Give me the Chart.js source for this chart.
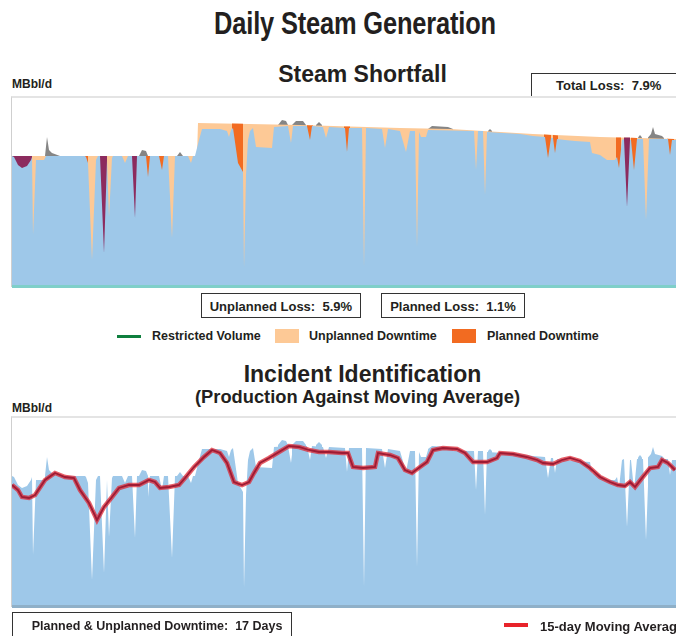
<!DOCTYPE html>
<html><head><meta charset="utf-8">
<script src="https://cdn.jsdelivr.net/npm/chart.js@4"></script>
<style>
html,body{margin:0;padding:0;background:#fff;}
body{width:676px;height:636px;overflow:hidden;position:relative;font-family:"Liberation Sans",Arial,sans-serif;color:#231f20;}
.t{position:absolute;white-space:nowrap;font-weight:bold;line-height:1;}
.c{transform:translateX(-50%);}
.box{position:absolute;border:1.5px solid #333;box-sizing:border-box;background:#fff;}
.sw{position:absolute;}
canvas{position:absolute;}
</style></head><body>

<div class="t" style="left:355px;top:7.8px;font-size:31px;transform:translateX(-50%) scaleX(0.82);letter-spacing:-0.2px;">Daily Steam Generation</div>
<div class="t c" style="left:362.5px;top:62.9px;font-size:23px;">Steam Shortfall</div>
<div class="t" style="left:12px;top:78.3px;font-size:12px;">MBbl/d</div>
<div class="box" style="left:531px;top:73px;width:160px;height:25px;"></div>
<div class="t c" id="totalTxt" style="left:608.7px;top:79.2px;font-size:13px;"></div>

<div style="position:absolute;left:11px;top:96px;width:670px;height:191px;border-top:2px solid #e4e4e4;border-left:1px solid #cfcfcf;box-sizing:border-box;"></div>
<canvas id="top" width="664" height="190" style="left:12px;top:97px;"></canvas>
<div style="position:absolute;left:12px;top:285px;width:664px;height:3px;background:#7fcfc9;"></div>

<div class="box" style="left:201px;top:293px;width:160px;height:25px;"></div>
<div class="t c" id="unplTxt" style="left:280.9px;top:300.2px;font-size:13px;"></div>
<div class="box" style="left:381px;top:293px;width:143.5px;height:25px;"></div>
<div class="t c" id="planTxt" style="left:453px;top:300.2px;font-size:13px;"></div>

<div class="sw" style="left:117px;top:334.5px;width:24px;height:3.5px;background:#0f7f3e;"></div>
<div class="t" style="left:152px;top:330.1px;font-size:12.5px;">Restricted Volume</div>
<div class="sw" style="left:275px;top:328.5px;width:24px;height:14px;background:#fdc996;"></div>
<div class="t" style="left:309px;top:330.1px;font-size:12.5px;">Unplanned Downtime</div>
<div class="sw" style="left:452px;top:328.5px;width:24px;height:14px;background:#f26b21;"></div>
<div class="t" style="left:487px;top:330.1px;font-size:12.5px;">Planned Downtime</div>

<div class="t c" style="left:362.5px;top:362.9px;font-size:23px;">Incident Identification</div>
<div class="t c" style="left:357.5px;top:388px;font-size:18.3px;">(Production Against Moving Average)</div>
<div class="t" style="left:12px;top:401.7px;font-size:12px;">MBbl/d</div>

<div style="position:absolute;left:11px;top:416px;width:670px;height:191px;border-top:2px solid #e4e4e4;border-left:1px solid #cfcfcf;box-sizing:border-box;"></div>
<canvas id="bot" width="664" height="190" style="left:12px;top:417px;"></canvas>
<div style="position:absolute;left:12px;top:605px;width:664px;height:2.5px;background:#8fb0c8;"></div>

<div class="box" style="left:12px;top:612px;width:280px;height:30px;"></div>
<div class="t" id="daysTxt" style="left:31.7px;top:619.6px;font-size:12.5px;"></div>
<div class="sw" style="left:504px;top:623px;width:24px;height:4px;background:#e8232a;"></div>
<div class="t" style="left:540px;top:619.9px;font-size:13px;">15-day Moving Average</div>

<script>
// ---- Summary figures ----
const totalLoss = "7.9%";
const unplannedLoss = "5.9%";
const plannedLoss = "1.1%";
const downtimeDays = 17;

// ---- Daily production (MBbl/d) ----
const prodDay = [0,1,3,5,7.5,9.5,10,10.5,12,16,17,36.5,37,38,40,42,43,44,46,47.5,48.5,50,50.5,55,56.5,58,60,61.5,62.5,67,68,69,73.5,75,76,78,80,81.5,88,89.5,90.5,91.5,93.5,95,104,107.5,108.5,109.5,110.5,113,115.5,116,117,118,119,120.5,122,130,131,138,139.5,140.5,147.5,149,150,155.5,157,158.5,166.5,167.5,168.5,175,176,177,185,186.5,188,194,197,199,201.5,202.5,203.5,204.5,207,208,231,232,233,235.5,236.5,237.5,254,260.5,266.5,268,269.5,270.5,271.5,272.5,276.5,281.5,289,290,294,297.5,301.5,302.5,303.5,305,306,307.5,309,309.5,311,312.5,315.5,317,318.5,328,329,330,332];
const prodMBbl = [65.5,65,61,59.5,60.5,63.5,65,26,63.5,63.5,65.5,65.5,65,62,13.5,63.5,65.5,65.5,17,63.5,35,64.5,65.5,65.5,62,65.5,65.5,34.5,65.5,65.5,55,65.5,65.5,58.5,65.5,65.5,24.5,65.5,65.5,62,65.5,65.5,73.5,79,79,78,75,78.5,79.5,62,57.5,9.5,56,73.5,78,79.5,70,69.5,80,80.5,72,80.5,80.5,73.5,80.5,80,74.5,80,79.5,67.5,79.5,79.5,10,79.5,79,69.5,79,78,67.5,78,78,20,77.5,75,75,78.5,78,58.5,78,78,46,77.5,76.5,75.5,75,64.5,74.5,74.5,67,74,73.5,73,72.5,67,66,63.5,63.5,65,59.5,73.5,74,40,73.5,73.5,58.5,74,74,33.5,74,74,66,73.5,73.5];

// ---- Capacity (top of the shortfall area) ----
const capDay = [0,92.5,93,144,194,219,260.5,294,332];
const capMBbl = [65.5,65.5,82,81,79.5,79,76.5,75,74];

// ---- Production above capacity (grey) ----
const excessDay = [16.5,17.5,18.5,20,24,24, 63.5,65,67,68,68, 82.5,84,85.5,85.5, 133,135,137,138,138, 140,142,145.5,147,147, 152,153.5,155,155, 208,210,218,220.5,220.5, 238,239,240,240, 313,314,315,315, 318,319.5,320.5,321.5,325,326];
const excessMBbl = [65.5,75,68.5,67,65.5,null, 65.5,68.5,68,65.5,null, 65.5,67.5,65.5,null, 81,83.5,83,81,null, 81,83,83,81,null, 81,82.5,81,null, 79,80.5,80,79,null, 78,79,78,null, 74.8,76,74.8,null, 74.7,76.5,80,76.5,75.5,74.5];

// ---- Planned downtime windows (orange) ----
const plannedDay = [36.5,38,38, 66.5,69.5,69.5, 73,76.5,76.5, 110,115.5,115.5, 147.5,150.5,150.5, 166,169,169, 266,269.5,269.5, 270.5,273,273, 302,304.5,304.5, 309.5,312.5,312.5, 327.5,331,331];
const plannedMBbl = [65.5,65.5,null, 65.5,65.5,null, 65.5,65.5,null, 81.7,81.6,null, 80.9,80.8,null, 80.3,80.2,null, 76.2,76,null, 76,75.8,null, 74.8,74.7,null, 74.6,74.5,null, 74.1,74,null];

// ---- Other losses (purple) ----
const otherDay = [0,10,10, 43.5,47.5,47.5, 59.5,63,63, 306,309,309];
const otherMBbl = [65.5,65.5,null, 65.5,65.5,null, 65.5,65.5,null, 74.7,74.7,null];

// ---- 15-day moving average ----
const maDay = [0,3,5,8.5,11.5,16.5,21.5,26.5,31,34,38.5,42.5,46,50,53.5,58.5,63.5,68.5,71.5,74,78.5,83.5,86.5,91,96,100,104,107.5,111,115,118.5,121,124,128.5,133.5,138.5,143.5,148.5,153.5,158.5,165,168,170.5,175.5,181.5,183,189,193,196.5,200,204,207.5,210.5,215.5,222.5,226.5,230.5,237.5,242.5,244,250.5,257.5,262.5,265.5,270.5,275,279,284,289,294,299,303,306.5,309,311.5,315,319,323,325,328,331.5];
const maMBbl = [61,58.5,55,54.5,56,63.5,67,65,64.5,58.5,52,43.5,50,55,59.5,61,61,63.5,62.5,59.5,60,61,64.5,70,75,78.5,77,72,62.5,61,62.5,67,72,74.5,77.5,80.5,80,78.5,77.5,77.5,77,77,70,69.5,70,77,76,74.5,68.5,67,70,72.5,78.5,79.5,79,77,72.5,72.5,74.5,77,76.5,75,73.5,72,71.5,73.5,74.5,73,69.5,65,62.5,61,60.5,62.5,60,64.5,69.5,70,73.5,72,68.5];

document.getElementById('totalTxt').textContent = 'Total Loss:\u00a0 ' + totalLoss;
document.getElementById('unplTxt').textContent = 'Unplanned Loss:\u00a0 ' + unplannedLoss;
document.getElementById('planTxt').textContent = 'Planned Loss:\u00a0 ' + plannedLoss;
document.getElementById('daysTxt').textContent = 'Planned & Unplanned Downtime:\u00a0 ' + downtimeDays + ' Days';

const BLUE = '#9ec8e9', PEACH = '#fdc996', ORANGE = '#f26b21', PURPLE = '#8c2b5e', GREY = '#858585';

function pts(d, v){ return d.map((x, i) => ({x: x, y: v[i]})); }
function area(d, v, color){
  return {data: pts(d, v), fill: 'origin', backgroundColor: color, borderColor: 'rgba(0,0,0,0)',
          borderWidth: 0, pointRadius: 0, spanGaps: false, tension: 0};
}
function opts(){
  return {responsive: false, animation: false, events: [], layout: {padding: 0},
    plugins: {legend: {display: false}, tooltip: {enabled: false}},
    scales: {x: {type: 'linear', display: false, min: 0, max: 332},
             y: {type: 'linear', display: false, min: 0, max: 95}},
    elements: {point: {radius: 0}, line: {tension: 0}}};
}

new Chart(document.getElementById('top'), {
  type: 'line',
  data: {datasets: [
    area(prodDay, prodMBbl, BLUE),
    area(plannedDay, plannedMBbl, ORANGE),
    area(otherDay, otherMBbl, PURPLE),
    area(capDay, capMBbl, PEACH),
    area(excessDay, excessMBbl, GREY)
  ]},
  options: opts()
});

new Chart(document.getElementById('bot'), {
  type: 'line',
  data: {datasets: [
    {data: pts(maDay, maMBbl), borderColor: '#9e1b34', borderWidth: 1.8, fill: false, pointRadius: 0, tension: 0},
    {data: pts(maDay, maMBbl), borderColor: 'rgba(222,40,52,0.75)', borderWidth: 4.5, fill: false, pointRadius: 0, tension: 0},
    area(prodDay, prodMBbl, BLUE),
    area(excessDay, excessMBbl, BLUE)
  ]},
  options: opts()
});
</script>
</body></html>
